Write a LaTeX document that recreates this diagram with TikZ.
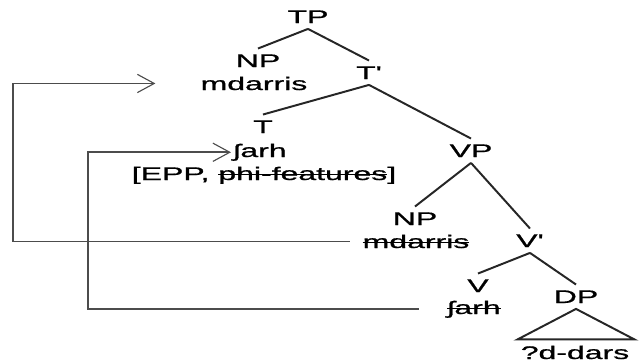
\documentclass[tikz,border=0pt]{standalone}
\usepackage{fontspec}
\setmainfont{Liberation Sans}[FakeBold=0.8]
\usepackage{graphicx}
\usetikzlibrary{arrows.meta,calc}
% wide sans lettering
\newcommand\widetext[1]{\scalebox{1.75}[1]{#1}}
% struck-through text
\newsavebox\strikebox
\newcommand\strike[1]{\sbox\strikebox{#1}\rlap{\usebox\strikebox}\rule[0.27em]{\wd\strikebox}{0.6pt}}

\begin{document}
\begin{tikzpicture}[x=0.025cm,y=-0.025cm,
  cat/.style={inner xsep=0pt, inner ysep=4pt, anchor=base, font=\fontsize{13}{15}\selectfont},
  word/.style={inner sep=0pt, anchor=base, font=\fontsize{13}{15}\selectfont},
  branch/.style={line width=1.4pt, draw=black!85},
  move/.style={line width=1.2pt, draw=black!70,
    -{Straight Barb[length=12pt,width=13pt,line width=0.8pt]}}]
\useasboundingbox (0,0) rectangle (640,363);

% category labels
\node[cat] (TP)   at (308,23)  {\widetext{TP}};
\node[cat] (NP1)  at (258,67)  {\widetext{NP}};
\node[cat] (Tbar) at (369,79)  {\widetext{T\textquotesingle}};
\node[cat] (T)    at (263,133) {\widetext{T}};
\node[cat] (VP)   at (471,157) {\widetext{VP}};
\node[cat] (NP2)  at (415,225) {\widetext{NP}};
\node[cat] (Vbar) at (530,247) {\widetext{V\textquotesingle}};
\node[cat] (V)    at (478,292) {\widetext{V}};
\node[cat] (DP)   at (576,303) {\widetext{DP}};

% words
\node[word] (md1) at (254,90)  {\widetext{mdarris}};
\node[word] (sh1) at (260,157) {\widetext{ʃarh}};
\node[word] (feat) at (264,180) {\widetext{[EPP, \strike{phi-features}]}};
\node[word] (md2) at (416,248) {\widetext{\strike{mdarris}}};
\node[word] (sh2) at (474,314) {\widetext{\strike{ʃarh}}};
\node[word] (dd)  at (575,359) {\widetext{?d-dars}};

% branches
\draw[branch] (TP.south) -- (NP1.north);
\draw[branch] (TP.south) -- (Tbar.north);
\draw[branch] (Tbar.south) -- (T.north);
\draw[branch] (Tbar.south) -- (VP.north);
\draw[branch] (VP.south) -- (NP2.north);
\draw[branch] (VP.south) -- (Vbar.north);
\draw[branch] (Vbar.south) -- (V.north);
\draw[branch] (Vbar.south) -- (DP.north);
\draw[branch] (DP.south) -- ($(dd.north west)+(-3,-6)$)
  -- ($(dd.north east)+(5,-6)$) -- cycle;

% movement arrows
\coordinate (outer) at (13,0);
\coordinate (inner) at (88,0);
\draw[move, shorten <=9pt, shorten >=32pt]
  (md2.west) -- (md2.west -| outer) |- (md1.west);
\draw[move, shorten <=20pt, shorten >=1.5pt]
  (sh2.west) -- (sh2.west -| inner) |- (sh1.west);
\end{tikzpicture}
\end{document}
